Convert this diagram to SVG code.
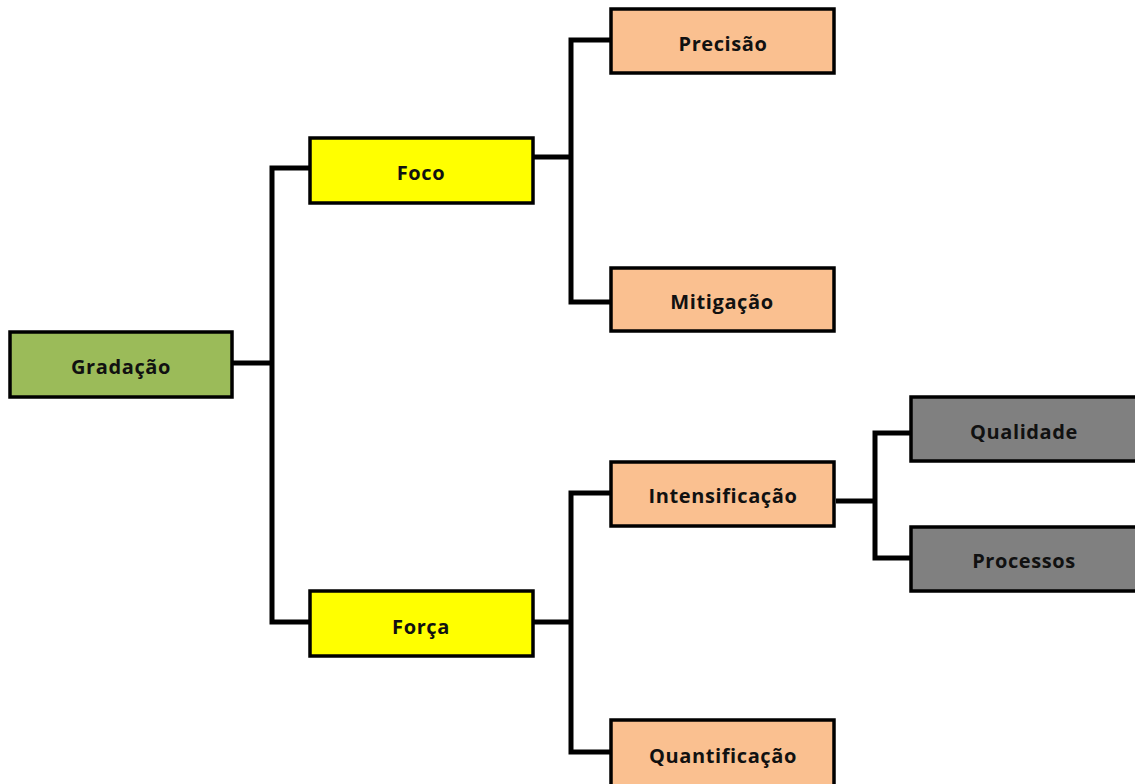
<svg xmlns="http://www.w3.org/2000/svg" width="1135" height="784" viewBox="0 0 1135 784">
<style>
.box{stroke:#000;stroke-width:3.5}
.g{fill:#9BBB59}.y{fill:#FFFF00}.p{fill:#FAC090}.k{fill:#808080}
text{font-family:"Open Sans","Noto Sans",sans-serif;font-weight:bold;font-size:20px;letter-spacing:0.6px;fill:#111;text-anchor:middle;dominant-baseline:central}
.c{fill:none;stroke:#000;stroke-width:5;stroke-linejoin:miter}
</style>
<rect width="1135" height="784" fill="#fff"/>
<g id="connectors">
<path class="c" d="M233 363H272M310 168H272V622H310"/>
<path class="c" d="M534 157H571M611 40H571V302H611"/>
<path class="c" d="M534 622H571M611 493H571V752H611"/>
<path class="c" d="M836 501H875M911 433H875V558H911"/>
</g>
<g id="gradacao"><rect class="box g" x="10" y="332" width="222" height="65"/><text x="121" y="366">Gradação</text></g>
<g id="foco"><rect class="box y" x="310" y="138" width="223" height="65"/><text x="421" y="172">Foco</text></g>
<g id="forca"><rect class="box y" x="310" y="591" width="223" height="65"/><text x="421" y="626">Força</text></g>
<g id="precisao"><rect class="box p" x="611" y="9" width="223" height="64"/><text x="723" y="43">Precisão</text></g>
<g id="mitigacao"><rect class="box p" x="611" y="268" width="223" height="63"/><text x="722" y="301">Mitigação</text></g>
<g id="intensificacao"><rect class="box p" x="611" y="462" width="223" height="64"/><text x="723" y="495">Intensificação</text></g>
<g id="quantificacao"><rect class="box p" x="611" y="720" width="223" height="70"/><text x="723" y="755">Quantificação</text></g>
<g id="qualidade"><rect class="box k" x="911" y="397" width="226" height="64"/><text x="1024" y="431">Qualidade</text></g>
<g id="processos"><rect class="box k" x="911" y="527" width="226" height="64"/><text x="1024" y="560">Processos</text></g>
</svg>
